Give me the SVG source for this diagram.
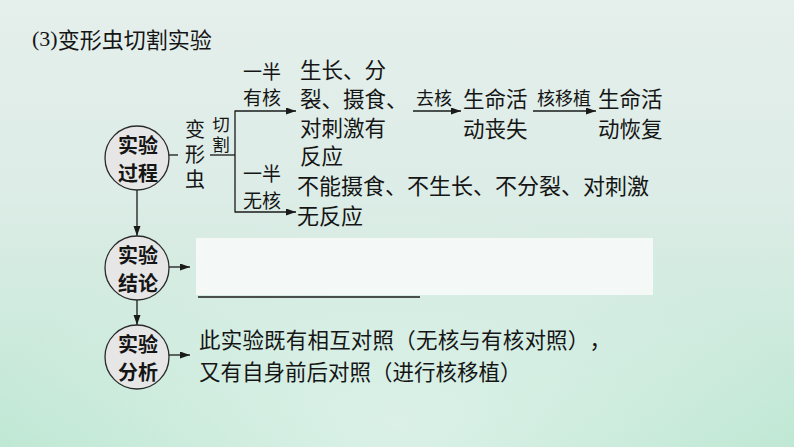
<svg xmlns="http://www.w3.org/2000/svg" width="794" height="447" viewBox="0 0 794 447">
  <defs>
    <linearGradient id="bg" x1="0" y1="0" x2="0" y2="1">
      <stop offset="0" stop-color="#e5efec"/>
      <stop offset="0.45" stop-color="#dcece6"/>
      <stop offset="0.75" stop-color="#cdeadd"/>
      <stop offset="1" stop-color="#bfe8d4"/>
    </linearGradient>
    <radialGradient id="glow" cx="0.5" cy="0.95" r="0.5">
      <stop offset="0" stop-color="#e2f3ec" stop-opacity="0.8"/>
      <stop offset="1" stop-color="#e2f3ec" stop-opacity="0"/>
    </radialGradient>
    <marker id="arr" markerUnits="userSpaceOnUse" markerWidth="11" markerHeight="8" refX="10" refY="3.5" orient="auto">
      <path d="M0,0 L10,3.5 L0,7 z" fill="#1a1a1a"/>
    </marker>
    <style>
      .t { font-family: "Noto Sans CJK SC", "Noto Sans", "Liberation Sans", sans-serif; fill: #151515; dominant-baseline: central; text-spacing-trim: space-all; font-kerning: none; }
      .v { writing-mode: vertical-rl; text-anchor: start; }
      .c { fill: #e6e6e6; stroke: #2a2a2a; stroke-width: 1.3; }
      .ct { font-size: 20px; font-weight: bold; text-anchor: middle; }
      .b { font-size: 21.5px; }
      .s { font-size: 19px; text-anchor: middle; }
      .ln { stroke: #1a1a1a; stroke-width: 1.3; fill: none; }
      .la { stroke: #1a1a1a; stroke-width: 1.3; fill: none; marker-end: url(#arr); }
    </style>
  </defs>
  <rect width="794" height="447" fill="url(#bg)"/>
  <rect width="794" height="447" fill="url(#glow)"/>

  <g id="title">
    <text x="32" y="38" class="t" style="font-size:22px"><tspan font-family="Liberation Serif, serif">(3)</tspan>变形虫切割实验</text>
  </g>

  <g id="connectors">
    <line class="la" x1="137" y1="190" x2="137" y2="236"/>
    <line class="la" x1="137" y1="300" x2="137" y2="325"/>
    <line class="ln" x1="169" y1="155" x2="178" y2="155"/>
    <line class="ln" x1="210" y1="155" x2="235" y2="155"/>
    <line class="ln" x1="235" y1="110.5" x2="235" y2="212.5"/>
    <line class="la" x1="235" y1="111" x2="296" y2="111"/>
    <line class="la" x1="235" y1="212" x2="296" y2="212"/>
    <line class="la" x1="413" y1="111" x2="461" y2="111"/>
    <line class="la" x1="533" y1="111" x2="596" y2="111"/>
    <line class="la" x1="169" y1="267" x2="190" y2="267"/>
    <line class="la" x1="169" y1="355" x2="190" y2="355"/>
  </g>

  <g id="node-process">
    <circle class="c" cx="137" cy="158" r="32"/>
    <text class="t ct" x="138" y="144">实验</text>
    <text class="t ct" x="138" y="172">过程</text>
  </g>

  <g id="node-amoeba">
    <text class="t v" style="font-size:20px; letter-spacing:5px" x="195" y="119">变形虫</text>
    <text class="t v" style="font-size:17.5px; letter-spacing:2.5px" x="221" y="116">切割</text>
  </g>

  <g id="label-with-nucleus">
    <text class="t s" x="262" y="70">一半</text>
    <text class="t s" x="262" y="96">有核</text>
  </g>

  <g id="label-without-nucleus">
    <text class="t s" x="262" y="172">一半</text>
    <text class="t s" x="262" y="199">无核</text>
  </g>

  <g id="node-with-result">
    <text class="t b" x="300" y="68">生长、分</text>
    <text class="t b" x="300" y="97">裂、摄食、</text>
    <text class="t b" x="300" y="126">对刺激有</text>
    <text class="t b" x="300" y="154">反应</text>
  </g>

  <g id="label-remove">
    <text class="t" style="font-size:18px" text-anchor="middle" x="434" y="97">去核</text>
  </g>

  <g id="node-lost">
    <text class="t b" x="463" y="97">生命活</text>
    <text class="t b" x="463" y="127">动丧失</text>
  </g>

  <g id="label-transplant">
    <text class="t" style="font-size:18px" text-anchor="middle" x="564" y="97">核移植</text>
  </g>

  <g id="node-restored">
    <text class="t b" x="598" y="97">生命活</text>
    <text class="t b" x="598" y="127">动恢复</text>
  </g>

  <g id="node-without-result">
    <text class="t" style="font-size:22px" x="297" y="184">不能摄食、不生长、不分裂、对刺激</text>
    <text class="t" style="font-size:22px" x="297" y="214">无反应</text>
  </g>

  <g id="node-conclusion">
    <circle class="c" cx="137" cy="268" r="32"/>
    <text class="t ct" x="138" y="254">实验</text>
    <text class="t ct" x="138" y="282">结论</text>
  </g>

  <g id="node-blank">
    <rect x="196" y="238" width="457" height="57" fill="#f6faf8" fill-opacity="0.95"/>
    <line class="ln" x1="198" y1="297" x2="420" y2="297"/>
  </g>

  <g id="node-analysis">
    <circle class="c" cx="137" cy="357" r="32"/>
    <text class="t ct" x="138" y="343">实验</text>
    <text class="t ct" x="138" y="371">分析</text>
  </g>

  <g id="node-analysis-text">
    <text class="t b" x="199" y="338" textLength="412" lengthAdjust="spacing">此实验既有相互对照（无核与有核对照），</text>
    <text class="t b" x="199" y="370">又有自身前后对照（进行核移植）</text>
  </g>
</svg>
